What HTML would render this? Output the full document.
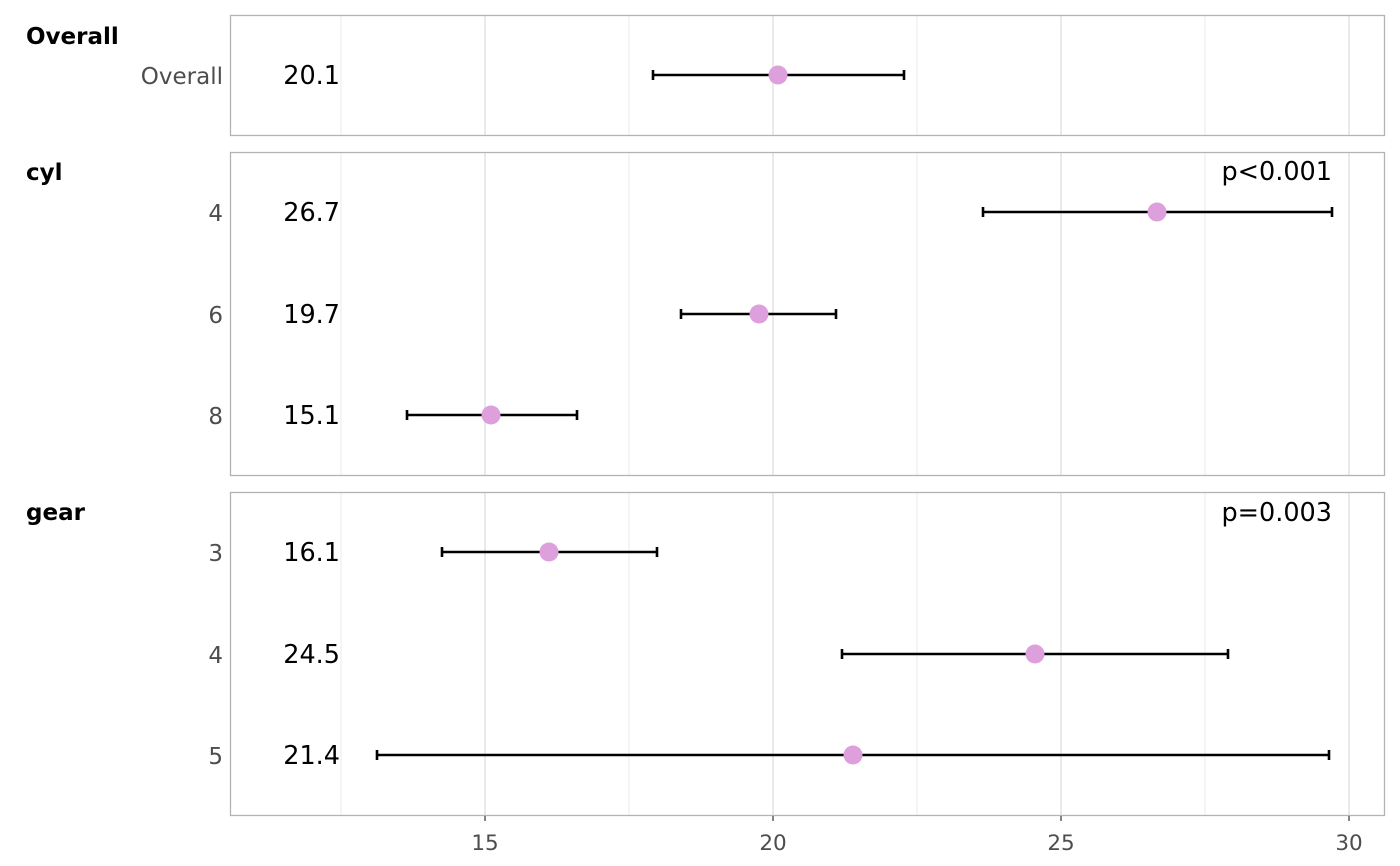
<!DOCTYPE html>
<html><head><style>body{margin:0;background:#fff}svg{display:block}text{font-family:"DejaVu Sans","Liberation Sans",sans-serif}</style></head><body>
<svg width="1400" height="866" xmlns="http://www.w3.org/2000/svg">
<g stroke="#ebebeb" stroke-width="1">
<line x1="341" y1="15" x2="341" y2="135"/><line x1="629" y1="15" x2="629" y2="135"/><line x1="917" y1="15" x2="917" y2="135"/><line x1="1205" y1="15" x2="1205" y2="135"/>
<line x1="341" y1="152" x2="341" y2="475"/><line x1="629" y1="152" x2="629" y2="475"/><line x1="917" y1="152" x2="917" y2="475"/><line x1="1205" y1="152" x2="1205" y2="475"/>
<line x1="341" y1="492" x2="341" y2="815"/><line x1="629" y1="492" x2="629" y2="815"/><line x1="917" y1="492" x2="917" y2="815"/><line x1="1205" y1="492" x2="1205" y2="815"/>
</g>
<g stroke="#dedede" stroke-width="1.3">
<line x1="485" y1="15" x2="485" y2="135"/><line x1="773" y1="15" x2="773" y2="135"/><line x1="1061" y1="15" x2="1061" y2="135"/><line x1="1349" y1="15" x2="1349" y2="135"/>
<line x1="485" y1="152" x2="485" y2="475"/><line x1="773" y1="152" x2="773" y2="475"/><line x1="1061" y1="152" x2="1061" y2="475"/><line x1="1349" y1="152" x2="1349" y2="475"/>
<line x1="485" y1="492" x2="485" y2="815"/><line x1="773" y1="492" x2="773" y2="815"/><line x1="1061" y1="492" x2="1061" y2="815"/><line x1="1349" y1="492" x2="1349" y2="815"/>
</g>
<g fill="none" stroke="#b3b3b3" stroke-width="1.3">
<rect x="230.5" y="15.5" width="1154" height="120"/>
<rect x="230.5" y="152.5" width="1154" height="323"/>
<rect x="230.5" y="492.5" width="1154" height="323"/>
</g>
<g stroke="#000" stroke-width="2.6">
<line x1="653" y1="75" x2="904" y2="75"/><line x1="653" y1="70" x2="653" y2="80"/><line x1="904" y1="70" x2="904" y2="80"/>
<line x1="983" y1="212" x2="1332" y2="212"/><line x1="983" y1="207" x2="983" y2="217"/><line x1="1332" y1="207" x2="1332" y2="217"/>
<line x1="681" y1="314" x2="836" y2="314"/><line x1="681" y1="309" x2="681" y2="319"/><line x1="836" y1="309" x2="836" y2="319"/>
<line x1="407" y1="415" x2="577" y2="415"/><line x1="407" y1="410" x2="407" y2="420"/><line x1="577" y1="410" x2="577" y2="420"/>
<line x1="442" y1="552" x2="657" y2="552"/><line x1="442" y1="547" x2="442" y2="557"/><line x1="657" y1="547" x2="657" y2="557"/>
<line x1="842" y1="654" x2="1228" y2="654"/><line x1="842" y1="649" x2="842" y2="659"/><line x1="1228" y1="649" x2="1228" y2="659"/>
<line x1="377" y1="755" x2="1329" y2="755"/><line x1="377" y1="750" x2="377" y2="760"/><line x1="1329" y1="750" x2="1329" y2="760"/>
</g>
<g fill="#dda0dd">
<circle cx="778" cy="75" r="9.5"/><circle cx="1157" cy="212" r="9.5"/><circle cx="759" cy="314" r="9.5"/><circle cx="491" cy="415" r="9.5"/>
<circle cx="549" cy="552" r="9.5"/><circle cx="1035" cy="654" r="9.5"/><circle cx="853" cy="755" r="9.5"/>
</g>
<g font-size="25.5" fill="#000" text-anchor="end">
<text x="340" y="84">20.1</text><text x="340" y="221">26.7</text><text x="340" y="323">19.7</text><text x="340" y="424">15.1</text>
<text x="340" y="561">16.1</text><text x="340" y="663">24.5</text><text x="340" y="764">21.4</text>
<text x="1332" y="180">p&lt;0.001</text><text x="1332" y="521">p=0.003</text>
</g>
<g font-size="23" fill="#4d4d4d" text-anchor="end">
<text x="223" y="84">Overall</text><text x="223" y="221">4</text><text x="223" y="323">6</text><text x="223" y="424">8</text>
<text x="223" y="561">3</text><text x="223" y="663">4</text><text x="223" y="764">5</text>
</g>
<g font-size="23" font-weight="bold" fill="#000">
<text x="26" y="44">Overall</text><text x="26" y="180">cyl</text><text x="26" y="520">gear</text>
</g>
<g stroke="#333" stroke-width="1.2"><line x1="485" y1="816" x2="485" y2="821"/><line x1="773" y1="816" x2="773" y2="821"/><line x1="1061" y1="816" x2="1061" y2="821"/><line x1="1349" y1="816" x2="1349" y2="821"/></g>
<g font-size="21.5" fill="#4d4d4d" text-anchor="middle">
<text x="485" y="850">15</text><text x="773" y="850">20</text><text x="1061" y="850">25</text><text x="1349" y="850">30</text>
</g>
</svg>
</body></html>
